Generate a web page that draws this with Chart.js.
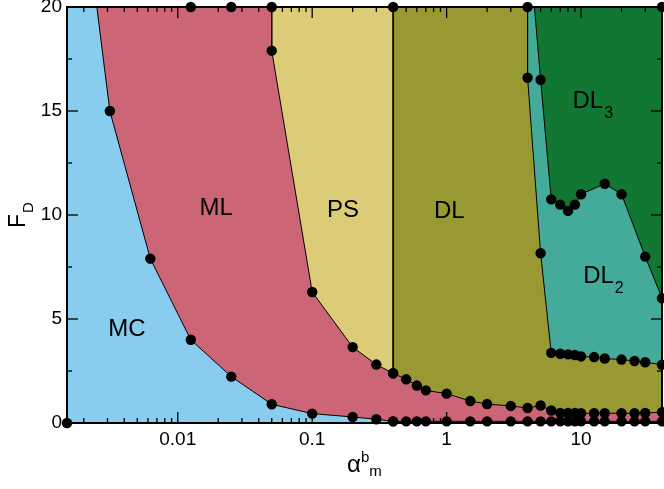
<!DOCTYPE html>
<html>
<head>
<meta charset="utf-8">
<script src="https://cdn.jsdelivr.net/npm/chart.js@4.4.0/dist/chart.umd.min.js"></script>
<style>
  html, body { margin: 0; padding: 0; background: #fff; }
</style>
</head>
<body>
<canvas id="chart" width="664" height="489"></canvas>
<script>
// axis ranges and tick labels
const xMin = 0.0015, xMax = 40;
const yMin = 0, yMax = 20;
const xTicks = [0.01, 0.1, 1, 10];
const yTicks = [0, 5, 10, 15, 20];

// phase boundaries, [alpha_m^b, F_D]
const mcBoundary = [[0.0025, 20], [0.003125, 15], [0.00625, 7.9], [0.0125, 4.0], [0.025, 2.23],
    [0.05, 0.9], [0.1, 0.45], [0.2, 0.29], [0.3, 0.18], [0.4, 0.08]];
const mlBoundary = [[0.05, 20], [0.05, 17.9], [0.1, 6.3], [0.2, 3.65], [0.3, 2.81], [0.4, 2.39],
    [0.5, 2.1], [0.6, 1.8], [0.7, 1.57], [1, 1.41], [1.5, 1.06], [2, 0.91], [3, 0.82], [4, 0.72],
    [5, 0.84], [6, 0.6], [7, 0.48], [8, 0.48], [9, 0.48], [10, 0.47], [12.5, 0.47], [15, 0.47],
    [20, 0.47], [25, 0.47], [30, 0.48], [40, 0.52]];
const psBoundary = [[0.4, 20], [0.4, 2.39]];
const dlBoundary = [[4, 20], [4, 16.6], [5, 8.16], [6, 3.37], [7, 3.33], [8, 3.3], [9, 3.27],
    [10, 3.2], [12.5, 3.17], [15, 3.1], [20, 3.05], [25, 2.98], [30, 2.92], [40, 2.8]];
const dl2Boundary = [[4.5, 20], [5, 16.5], [6, 10.75], [7, 10.5], [8, 10.2], [9, 10.5], [10, 11.0],
    [15, 11.5], [20, 11.0], [30, 8.0], [40, 6.0]];
const bottomRow = [[0.4, 0.08], [0.5, 0.08], [0.6, 0.08], [0.7, 0.08], [1, 0.08], [1.5, 0.08],
    [2, 0.08], [3, 0.08], [4, 0.08], [5, 0.08], [6, 0.08], [7, 0.08], [8, 0.08], [9, 0.08],
    [10, 0.08], [12.5, 0.08], [15, 0.08], [20, 0.08], [25, 0.08], [30, 0.08], [40, 0.08]];
const edgePoints = [[0.0015, 0], [0.0125, 20], [0.025, 20], [40, 20]];

const phaseNames = ['MC', 'ML', 'PS', 'DL', 'DL', 'DL'];
const phaseSubs = ['', '', '', '', '3', '2'];
// label anchors (left edge, baseline) in data units
const phaseAnchors = [[0.00304, 4.17], [0.0145, 10.0], [0.129, 9.9], [0.806, 9.87], [8.63, 15.16], [10.37, 6.73]];

const FONT = '"Liberation Sans", Arial, sans-serif';
const R = 5.2;

const toXY = pts => pts.map(([x, y]) => ({ x, y }));

// filled area left of / below a boundary, closed down to F = 0
function region(points, color, order) {
    return {
        data: toXY([[xMin, yMax], ...points]),
        backgroundColor: color,
        borderWidth: 0,
        pointRadius: 0,
        fill: 'origin',
        order: order
    };
}

function boundary(points, hideFirst, showLine = true) {
    return {
        data: toXY(points),
        borderColor: '#000',
        borderWidth: 1,
        showLine: showLine,
        pointRadius: points.map((p, i) => (hideFirst && i === 0) ? 0 : R),
        pointBackgroundColor: '#000',
        pointBorderWidth: 0,
        fill: false,
        clip: false,
        order: 0
    };
}

const decor = {
    id: 'decor',
    afterDraw(chart) {
        const ctx = chart.ctx;
        const a = chart.chartArea;
        const xs = chart.scales.x, ys = chart.scales.y;
        ctx.save();
        ctx.strokeStyle = '#000';
        ctx.lineWidth = 1.3;
        const seg = (x1, y1, x2, y2) => {
            ctx.beginPath(); ctx.moveTo(x1, y1); ctx.lineTo(x2, y2); ctx.stroke();
        };
        // inward ticks on all four sides
        for (let e = -3; e <= 1; e++) {
            for (let k = 1; k <= 9; k++) {
                const v = k * Math.pow(10, e);
                if (v <= xMin || v >= xMax) continue;
                const px = xs.getPixelForValue(v);
                const len = k === 1 ? 11 : 5;
                seg(px, a.bottom, px, a.bottom - len);
                seg(px, a.top, px, a.top + len);
            }
        }
        for (let v = yMin; v <= yMax; v += 2.5) {
            const py = ys.getPixelForValue(v);
            const len = v % 5 === 0 ? 11 : 5;
            seg(a.left, py, a.left + len, py);
            seg(a.right, py, a.right - len, py);
        }
        ctx.lineWidth = 2;
        ctx.strokeRect(a.left, a.top, a.right - a.left, a.bottom - a.top);

        // phase labels
        ctx.fillStyle = '#000';
        ctx.textAlign = 'left';
        ctx.textBaseline = 'alphabetic';
        phaseNames.forEach((name, i) => {
            const x = xs.getPixelForValue(phaseAnchors[i][0]);
            const y = ys.getPixelForValue(phaseAnchors[i][1]);
            ctx.font = '24px ' + FONT;
            ctx.fillText(name, x, y);
            if (phaseSubs[i]) {
                const w = ctx.measureText(name).width;
                ctx.font = '16px ' + FONT;
                ctx.fillText(phaseSubs[i], x + w + 1, y + 10);
            }
        });

        // x title: alpha^b_m
        ctx.font = '24px ' + FONT;
        ctx.fillText('α', 347, 472);
        const aw = ctx.measureText('α').width;
        ctx.font = '15px ' + FONT;
        ctx.fillText('b', 347 + aw, 462);
        const bw = ctx.measureText('b').width;
        ctx.fillText('m', 347 + aw + bw, 476);

        // y title: F_D
        ctx.translate(25, 228);
        ctx.rotate(-Math.PI / 2);
        ctx.font = '23px ' + FONT;
        ctx.fillText('F', 0, 0);
        const fw = ctx.measureText('F').width;
        ctx.font = '15px ' + FONT;
        ctx.fillText('D', fw + 1, 8);
        ctx.restore();
    }
};

new Chart(document.getElementById('chart'), {
    type: 'line',
    data: {
        datasets: [
            boundary(mcBoundary, true),
            boundary(mlBoundary, false),
            boundary(psBoundary, false),
            boundary(dlBoundary, false),
            boundary(dl2Boundary, true),
            boundary(bottomRow, false),
            boundary(edgePoints, false, false),
            region(mcBoundary, '#88CCEE', 1),
            region(mlBoundary, '#CC6677', 2),
            region(psBoundary, '#DDCC77', 3),
            region(dlBoundary, '#999933', 4),
            region(dl2Boundary, '#44AA99', 5),
            region([[xMax, yMax]], '#117733', 6)
        ]
    },
    options: {
        responsive: false,
        animation: false,
        events: [],
        layout: { autoPadding: false, padding: { top: 7, right: 2, left: 0, bottom: 0 } },
        plugins: {
            legend: { display: false },
            tooltip: { enabled: false }
        },
        scales: {
            x: {
                type: 'logarithmic',
                min: xMin,
                max: xMax,
                grid: { display: false, drawTicks: false },
                border: { display: false },
                afterBuildTicks: s => { s.ticks = xTicks.map(v => ({ value: v })); },
                afterFit: s => { s.height = 66; s.paddingLeft = 0; s.paddingRight = 0; },
                ticks: {
                    color: '#000',
                    padding: 5,
                    maxRotation: 0,
                    autoSkip: false,
                    font: { family: FONT, size: 19 },
                    callback: v => String(v)
                }
            },
            y: {
                type: 'linear',
                min: yMin,
                max: yMax,
                grid: { display: false, drawTicks: false },
                border: { display: false },
                afterBuildTicks: s => { s.ticks = yTicks.map(v => ({ value: v })); },
                afterFit: s => { s.width = 67; s.paddingTop = 0; s.paddingBottom = 0; },
                ticks: {
                    color: '#000',
                    padding: 5,
                    font: { family: FONT, size: 19 }
                }
            }
        }
    },
    plugins: [decor]
});
</script>
</body>
</html>
